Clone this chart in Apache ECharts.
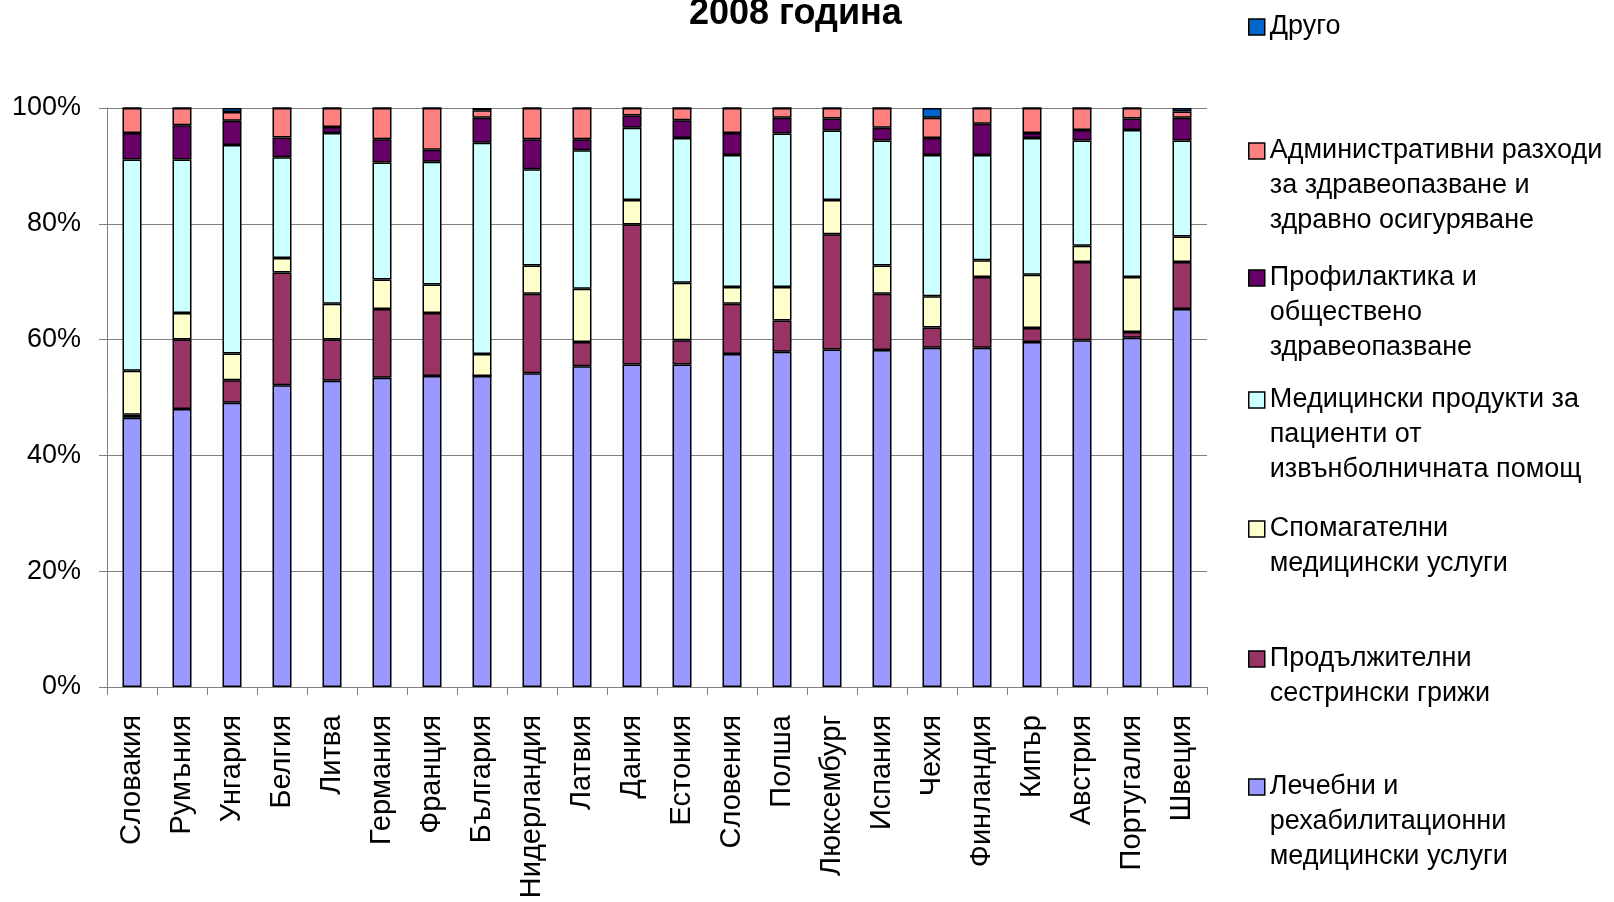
<!DOCTYPE html>
<html>
<head>
<meta charset="utf-8">
<title>2008 година</title>
<script src="https://cdn.jsdelivr.net/npm/echarts@6/dist/echarts.min.js"></script>
<style>
  html, body { margin: 0; padding: 0; background: #fff; }
  #chart { width: 1614px; height: 902px; }
</style>
</head>
<body>
<div id="chart"></div>
<script>
// Structure of health expenditure by function, 2008 (shares, %)
const countries = ['Словакия', 'Румъния', 'Унгария', 'Белгия', 'Литва', 'Германия', 'Франция', 'България',
  'Нидерландия', 'Латвия', 'Дания', 'Естония', 'Словения', 'Полша', 'Люксембург', 'Испания',
  'Чехия', 'Финландия', 'Кипър', 'Австрия', 'Португалия', 'Швеция'];

const curative   = [46.5, 48.0, 49.1, 52.1, 52.9, 53.4, 53.7, 53.7, 54.2, 55.4, 55.7, 55.7, 57.5, 57.9, 58.3, 58.2, 58.6, 58.6, 59.6, 59.9, 60.3, 65.3];
const longTerm   = [0.5, 12.0, 3.9, 19.5, 7.1, 11.9, 10.9, 0.0, 13.7, 4.2, 24.2, 4.2, 8.7, 5.4, 19.9, 9.7, 3.5, 12.2, 2.4, 13.5, 1.0, 8.1];
const ancillary  = [7.6, 4.6, 4.6, 2.5, 6.2, 5.1, 4.9, 3.8, 4.9, 9.2, 4.2, 9.9, 2.9, 5.8, 5.9, 4.9, 5.4, 2.9, 9.2, 2.8, 9.5, 4.4];
const goods      = [36.5, 26.5, 36.0, 17.4, 29.5, 20.2, 21.2, 36.5, 16.6, 23.9, 12.5, 25.0, 22.8, 26.5, 12.0, 21.6, 24.4, 18.2, 23.6, 18.2, 25.4, 16.6];
const prevention = [4.6, 5.9, 4.2, 3.4, 1.0, 4.0, 2.1, 4.3, 5.2, 1.9, 2.1, 3.1, 3.8, 2.7, 2.1, 2.2, 2.9, 5.4, 0.9, 1.8, 2.0, 3.9];
const admin      = [4.3, 3.0, 1.5, 5.1, 3.3, 5.4, 7.2, 1.3, 5.4, 5.4, 1.3, 2.1, 4.3, 1.7, 1.8, 3.4, 3.5, 2.7, 4.3, 3.8, 1.8, 1.1];
const other      = [0, 0, 0.7, 0, 0, 0, 0, 0.4, 0, 0, 0, 0, 0, 0, 0, 0, 1.7, 0, 0, 0, 0, 0.6];

const yTicks = [0, 20, 40, 60, 80, 100];

// series, bottom of the stack first; iconY = vertical centre of the legend swatch
const seriesDefs = [
  { name: 'Лечебни и рехабилитационни медицински услуги', data: curative, color: '#9999FF',
    label: ['Лечебни и', 'рехабилитационни', 'медицински услуги'], iconY: 787 },
  { name: 'Продължителни сестрински грижи', data: longTerm, color: '#993366',
    label: ['Продължителни', 'сестрински грижи'], iconY: 659 },
  { name: 'Спомагателни медицински услуги', data: ancillary, color: '#FFFFCC',
    label: ['Спомагателни', 'медицински услуги'], iconY: 529 },
  { name: 'Медицински продукти за пациенти от извънболничната помощ', data: goods, color: '#CCFFFF',
    label: ['Медицински продукти за', 'пациенти от', 'извънболничната помощ'], iconY: 400 },
  { name: 'Профилактика и обществено здравеопазване', data: prevention, color: '#660066',
    label: ['Профилактика и', 'обществено', 'здравеопазване'], iconY: 278 },
  { name: 'Административни разходи за здравеопазване и здравно осигуряване', data: admin, color: '#FF8080',
    label: ['Административни разходи', 'за здравеопазване и', 'здравно осигуряване'], iconY: 151 },
  { name: 'Друго', data: other, color: '#0066CC', label: ['Друго'], iconY: 27 }
];

const FONT = '"Liberation Sans", Arial, sans-serif';
const LINE_H = 35;

const chart = echarts.init(document.getElementById('chart'), null, { renderer: 'canvas' });

// One legend block per series. Legend text is centred on its swatch, so blank
// lines are put in front of the wrapped name to keep the swatch on the first line.
const legends = seriesDefs.map(s => {
  const n = s.label.length;
  const blockH = (2 * n - 1) * LINE_H;
  return {
    data: [s.name],
    left: 1248,
    top: s.iconY - blockH / 2,
    orient: 'vertical',
    padding: 0,
    icon: 'rect',
    itemWidth: 16,
    itemHeight: 16,
    selectedMode: false,
    itemStyle: { borderColor: '#000', borderWidth: 1.5 },
    formatter: () => '\n'.repeat(n - 1) + s.label.join('\n'),
    textStyle: {
      fontFamily: FONT,
      fontSize: 27,
      color: '#000',
      lineHeight: LINE_H
    }
  };
});

chart.setOption({
  animation: false,
  backgroundColor: '#fff',
  title: {
    text: '2008 година',
    left: 689,
    top: -4,
    padding: 0,
    textStyle: { fontFamily: FONT, fontSize: 36, fontWeight: 'bold', color: '#000' }
  },
  legend: legends,
  grid: { left: 107, right: 407, top: 108, bottom: 215, containLabel: false },
  xAxis: {
    type: 'category',
    data: countries,
    axisLine: { lineStyle: { color: '#808080', width: 1 } },
    axisTick: { show: true, alignWithLabel: false, length: 8, lineStyle: { color: '#808080' } },
    axisLabel: {
      interval: 0,
      rotate: 90,
      margin: 28,
      fontFamily: FONT,
      fontSize: 29,
      color: '#000'
    }
  },
  yAxis: {
    type: 'value',
    min: yTicks[0],
    max: yTicks[yTicks.length - 1],
    interval: yTicks[1] - yTicks[0],
    axisLine: { show: true, lineStyle: { color: '#808080', width: 1 } },
    axisTick: { show: true, length: 8, lineStyle: { color: '#808080' } },
    splitLine: { show: true, lineStyle: { color: '#808080', width: 1 } },
    axisLabel: {
      formatter: '{value}%',
      margin: 26,
      fontFamily: FONT,
      fontSize: 27,
      color: '#000'
    }
  },
  series: seriesDefs.map(s => ({
    name: s.name,
    type: 'bar',
    stack: 'total',
    barWidth: 19,
    data: s.data,
    itemStyle: { color: s.color, borderColor: '#000', borderWidth: 1.5 },
    emphasis: { disabled: true }
  }))
});
</script>
</body>
</html>
